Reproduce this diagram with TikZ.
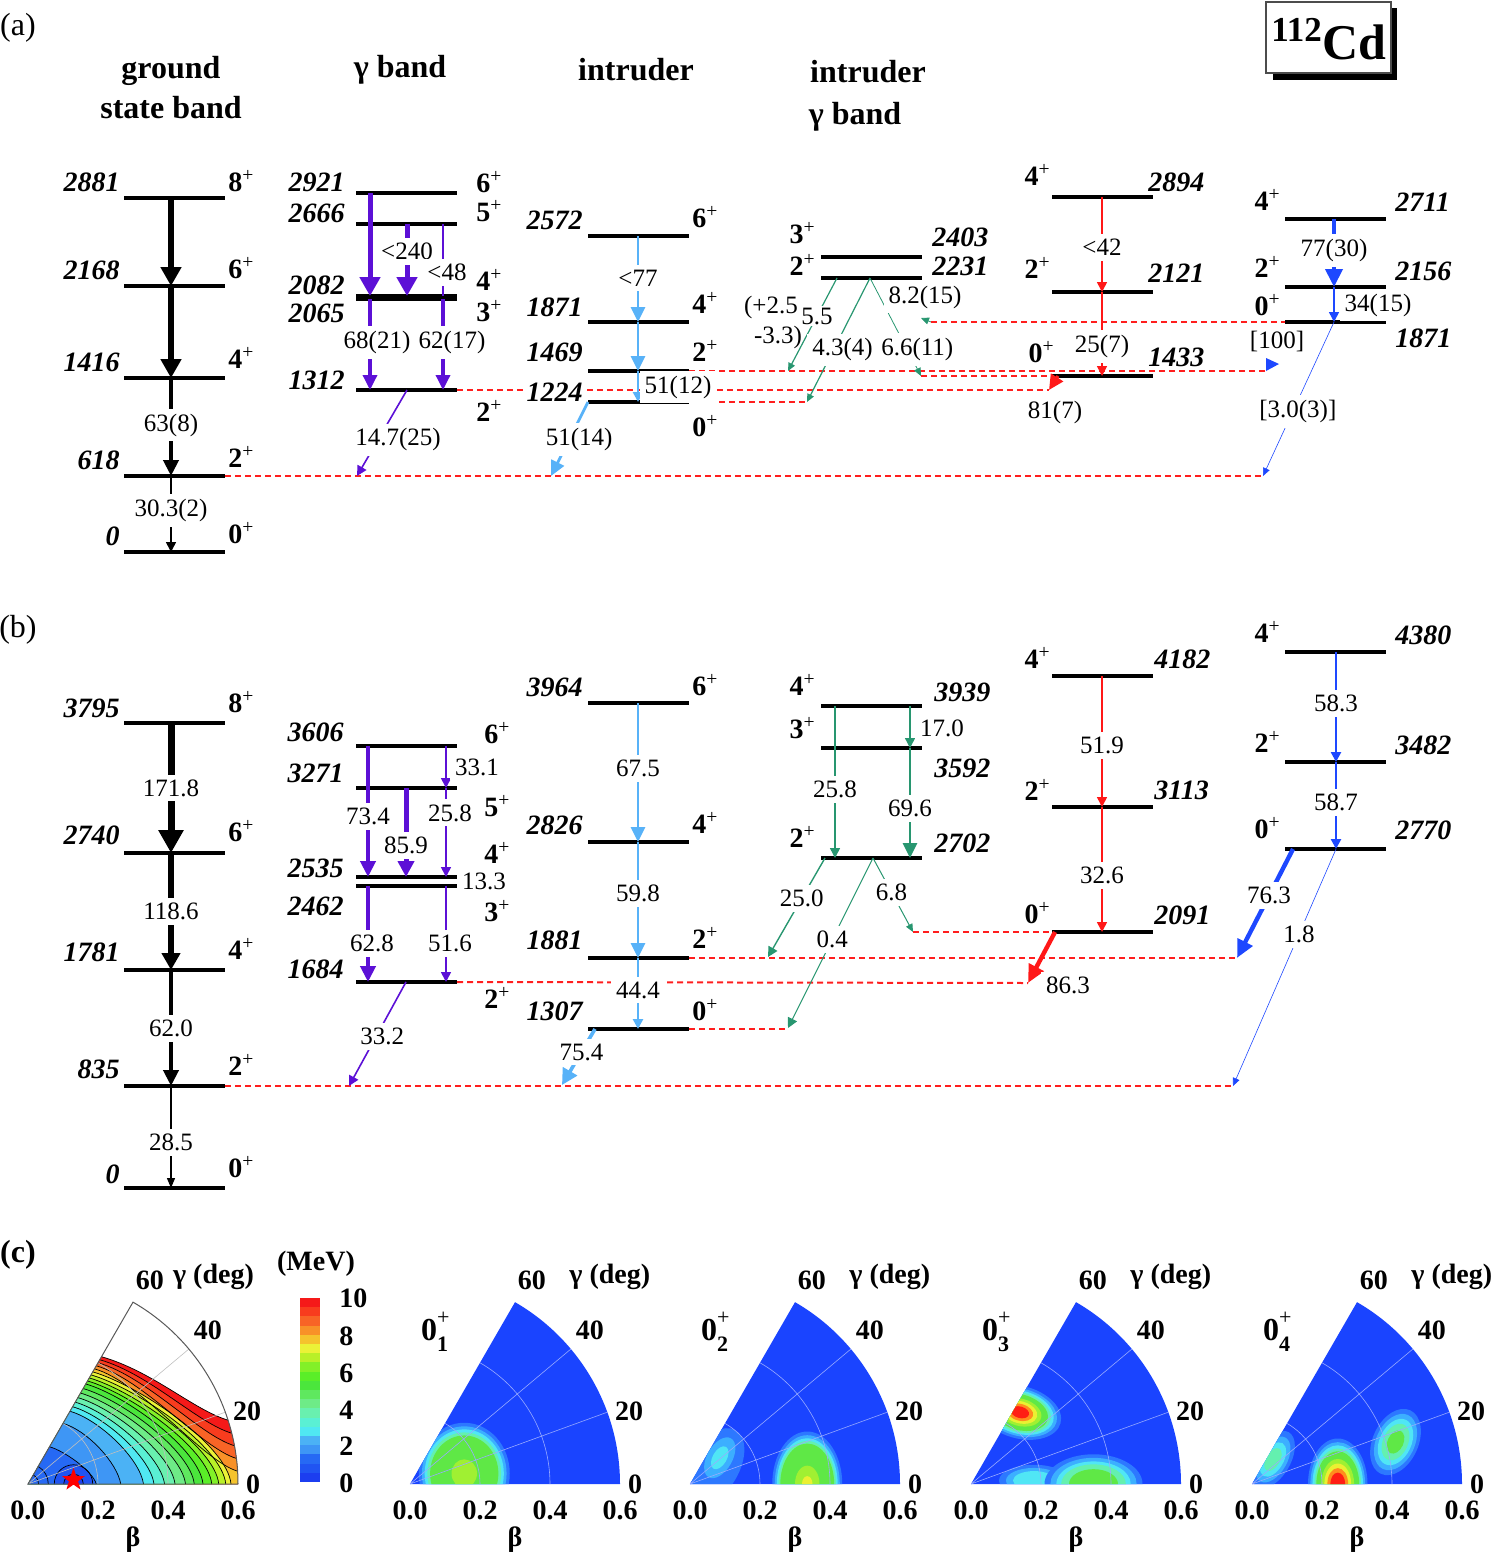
\documentclass[tikz,border=0pt]{standalone}
\usepackage{fontspec}
\setmainfont{Liberation Serif}
\usetikzlibrary{arrows.meta,shapes.geometric}

% transition colours
\definecolor{purp}{RGB}{92,16,214}
\definecolor{skyb}{RGB}{88,178,248}
\definecolor{teal2}{RGB}{40,150,112}
\definecolor{redt}{RGB}{255,24,24}
\definecolor{bluet}{RGB}{30,72,255}
\definecolor{dashred}{RGB}{255,30,30}
% collective wave functions
\definecolor{psbg}{RGB}{26,68,255}
\definecolor{h1}{RGB}{45,120,255}
\definecolor{h2}{RGB}{60,175,255}
\definecolor{h3}{RGB}{80,230,245}
\definecolor{h4}{RGB}{100,240,175}
\definecolor{h5}{RGB}{95,232,70}
\definecolor{h6}{RGB}{160,240,50}
\definecolor{h7}{RGB}{235,240,50}
\definecolor{h8}{RGB}{255,140,30}
\definecolor{h9}{RGB}{255,30,20}
% potential energy surface, 0.5 MeV per band
\definecolor{pc0}{RGB}{28,62,240}
\definecolor{pc1}{RGB}{32,84,242}
\definecolor{pc2}{RGB}{38,105,244}
\definecolor{pc3}{RGB}{62,150,245}
\definecolor{pc4}{RGB}{75,178,245}
\definecolor{pc5}{RGB}{80,232,242}
\definecolor{pc6}{RGB}{90,240,212}
\definecolor{pc7}{RGB}{105,240,175}
\definecolor{pc8}{RGB}{110,235,135}
\definecolor{pc9}{RGB}{95,232,95}
\definecolor{pc10}{RGB}{75,230,60}
\definecolor{pc11}{RGB}{90,238,40}
\definecolor{pc12}{RGB}{130,240,40}
\definecolor{pc13}{RGB}{185,240,40}
\definecolor{pc14}{RGB}{235,242,55}
\definecolor{pc15}{RGB}{245,195,45}
\definecolor{pc16}{RGB}{248,145,40}
\definecolor{pc17}{RGB}{248,100,38}
\definecolor{pc18}{RGB}{248,60,30}
\definecolor{pc19}{RGB}{245,25,25}

\newcommand{\spn}[1]{#1\textsuperscript{\mdseries +}}
\newcommand{\ztag}[1]{0\rlap{\raisebox{0.5em}{\fontsize{11}{11}\selectfont\mdseries +}}\raisebox{-0.35em}{\fontsize{11}{11}\selectfont #1}}
\newcommand{\elevel}[3]{\coordinate (#1) at (#2,#3); \draw[lvl] (#1) -- ++(101,0) coordinate (#1r);}
\newcommand{\heat}[5]{%
  \foreach \hcol/\hsc in {#5}{\fill[color=\hcol, rotate around={#4:(#1)}] (#1) ellipse[x radius={#2*\hsc}, y radius={#3*\hsc}];}}
\newcommand{\pgrid}[1]{\draw[#1] (0.2,0) arc[start angle=0, end angle=60, radius=0.2] (0.4,0) arc[start angle=0, end angle=60, radius=0.4] (0,0) -- (20:0.6) (0,0) -- (40:0.6);}
\newcommand{\pticks}[2]{%
  \node[tk] (#1b0) at (0,-0.074) {0.0};
  \node[tk] (#1b2) at (0.2,-0.074) {0.2};
  \node[tk] (#1b4) at (0.4,-0.074) {0.4};
  \node[tk] (#1b6) at (0.6,-0.074) {0.6};
  \node[tk] (#1bb) at (0.3,-0.16) {β};
  \node[tk] (#1g0) at (0.643,0) {0};
  \node[tk] (#1g2) at (0.626,0.209) {20};
  \node[tk] (#1g4) at (0.514,0.44) {40};
  \node[tk] (#1g6) at (0.348,0.583) {60};
  \node[tk] (#1gg) at (#2,0.592) {γ (deg)};}

\def\pesarc{0.42/17.7/19,0.41/14/18,0.40/10.5/17,0.39/7/16,0.38/3.5/15}
\def\pesbot{0.37/0.58/14,0.36/0.565/13,0.35/0.545/12,0.34/0.525/11,0.33/0.50/10,0.315/0.475/9,0.30/0.45/8,0.285/0.42/7,0.27/0.39/6,0.255/0.36/5,0.24/0.33/4,0.20/0.265/3,0.123/0.195/2}

\begin{document}
\begin{tikzpicture}[x=0.5pt, y=-0.5pt,
  lvl/.style={line width=2pt},
  en/.style={font=\fontsize{14}{16}\selectfont\bfseries\itshape, inner sep=1pt},
  sp/.style={font=\fontsize{14}{16}\selectfont\bfseries, inner sep=1pt},
  tl/.style={font=\fontsize{12.5}{14}\selectfont, text=black, fill=white, inner sep=2.5pt},
  ttl/.style={font=\fontsize{16}{20}\selectfont\bfseries},
  pl/.style={font=\fontsize{16}{18}\selectfont},
  tk/.style={font=\fontsize{14}{16}\selectfont\bfseries, inner sep=1pt},
  ttag/.style={font=\fontsize{16}{18}\selectfont\bfseries, inner sep=1pt},
  ext/.style={dashred, line width=1pt, dash pattern=on 3pt off 2pt},
  cline/.style={black, line width=0.35pt},
  wgrid/.style={white!55!psbg, line width=0.3pt},
  trA/.style={line width=2.7pt, -{Triangle[length=9.5pt,width=10pt]}},
  trB/.style={line width=2pt, -{Triangle[length=8pt,width=7.5pt]}},
  trC/.style={line width=1.4pt, -{Triangle[length=7.5pt,width=7pt]}},
  trD/.style={line width=0.8pt, -{Triangle[length=5pt,width=5pt]}},
  trE/.style={line width=0.4pt, -{Triangle[length=4pt,width=3.5pt]}}
]
\useasboundingbox (0,0) rectangle (1494,1558);

% ================= (a) experiment =================
\node[pl] (pa) at (18,28) {(a)};
\node[ttl, align=center] (hga) at (171,88) {ground\\state band};
\node[ttl] (hgma) at (400,70) {γ band};
\node[ttl] (hina) at (636,70) {intruder};
\node[ttl] (higa) at (868,72) {intruder};
\node[ttl] (higb) at (855,117) {γ band};

% nucleus tag
\fill[black] (1273,8) rectangle (1397,80);
\filldraw[fill=white, draw=gray!60!black, line width=0.6pt] (1266,2) rectangle (1391,73);
\node[font=\fontsize{25}{28}\selectfont\bfseries] (cd) at (1329,39) {\textsuperscript{112}Cd};

% levels
\elevel{ga8}{124}{198}\elevel{ga6}{124}{286}\elevel{ga4}{124}{378}\elevel{ga2}{124}{476}\elevel{ga0}{124}{552}
\elevel{ha6}{356}{193}\elevel{ha5}{356}{224}\elevel{ha4}{356}{296}\elevel{ha3}{356}{299}\elevel{ha2}{356}{390}
\elevel{ia6}{588}{236}\elevel{ia4}{588}{322}\elevel{ia2}{588}{371}\elevel{ia0}{588}{402}
\elevel{ja3}{821}{257}\elevel{ja2}{821}{278}
\elevel{ka4}{1052}{197}\elevel{ka2}{1052}{292}\elevel{ka0}{1052}{376}
\elevel{la4}{1285}{219}\elevel{la2}{1285}{287}\elevel{la0}{1285}{322}

% transition columns and landing points
\coordinate (xg) at (171,0);
\coordinate (xh1) at (370,0); \coordinate (xh2) at (407,0); \coordinate (xh3) at (443,0);
\coordinate (xi) at (638,0);
\coordinate (xj1) at (837,0); \coordinate (xj2) at (870,0);
\coordinate (xk) at (1102,0);
\coordinate (xl) at (1334,0);
\coordinate (dga) at (357,476);
\coordinate (dia) at (551,476);
\coordinate (dja1) at (788,371); \coordinate (dja2) at (807,402); \coordinate (dja3) at (921,376);
\coordinate (sja4) at (931,322); \coordinate (dja4) at (921,318);
\coordinate (ska) at (1058,376); \coordinate (dka) at (1049,390);
\coordinate (dla) at (1263,476); \coordinate (dl100) at (1266,371);

% level extensions
\draw[ext] (ga2r) -- (dla);
\draw[ext] (ha2r) -- (dka);
\draw[ext] (ia2r) -- (dl100);
\draw[ext] (ia0r) -- (dja2);
\draw[ext] (dja3) -- (ka0);
\draw[ext] (sja4) -- (la0);

% energies and spins
\node[en, anchor=east] (Ega8) at (122,182) {2881};
\node[en, anchor=east] (Ega6) at (122,270) {2168};
\node[en, anchor=east] (Ega4) at (122,362) {1416};
\node[en, anchor=east] (Ega2) at (122,460) {618};
\node[en, anchor=east] (Ega0) at (122,536) {0};
\node[sp, anchor=west] (Sga8) at (226,181) {\spn{8}};
\node[sp, anchor=west] (Sga6) at (226,268) {\spn{6}};
\node[sp, anchor=west] (Sga4) at (226,358) {\spn{4}};
\node[sp, anchor=west] (Sga2) at (226,457) {\spn{2}};
\node[sp, anchor=west] (Sga0) at (226,533) {\spn{0}};

\node[en, anchor=east] (Eha6) at (347,182) {2921};
\node[en, anchor=east] (Eha5) at (347,213) {2666};
\node[en, anchor=east] (Eha4) at (347,285) {2082};
\node[en, anchor=east] (Eha3) at (347,313) {2065};
\node[en, anchor=east] (Eha2) at (347,380) {1312};
\node[sp, anchor=west] (Sha6) at (474,182) {\spn{6}};
\node[sp, anchor=west] (Sha5) at (474,211) {\spn{5}};
\node[sp, anchor=west] (Sha4) at (474,280) {\spn{4}};
\node[sp, anchor=west] (Sha3) at (474,311) {\spn{3}};
\node[sp, anchor=west] (Sha2) at (474,411) {\spn{2}};

\node[en, anchor=east] (Eia6) at (585,220) {2572};
\node[en, anchor=east] (Eia4) at (585,307) {1871};
\node[en, anchor=east] (Eia2) at (585,352) {1469};
\node[en, anchor=east, fill=white] (Eia0) at (585,392) {1224};
\node[sp, anchor=west] (Sia6) at (690,217) {\spn{6}};
\node[sp, anchor=west] (Sia4) at (690,303) {\spn{4}};
\node[sp, anchor=west] (Sia2) at (690,351) {\spn{2}};
\node[sp, anchor=west] (Sia0) at (690,426) {\spn{0}};

\node[sp, anchor=east] (Sja3) at (818,233) {\spn{3}};
\node[sp, anchor=east] (Sja2) at (818,265) {\spn{2}};
\node[en, anchor=west] (Eja3) at (930,237) {2403};
\node[en, anchor=west] (Eja2) at (930,266) {2231};

\node[sp, anchor=east] (Ska4) at (1053,175) {\spn{4}};
\node[sp, anchor=east] (Ska2) at (1053,268) {\spn{2}};
\node[sp, anchor=east] (Ska0) at (1057,352) {\spn{0}};
\node[en, anchor=west] (Eka4) at (1146,182) {2894};
\node[en, anchor=west] (Eka2) at (1146,273) {2121};
\node[en, anchor=west] (Eka0) at (1146,357) {1433};

\node[sp, anchor=east] (Sla4) at (1283,200) {\spn{4}};
\node[sp, anchor=east] (Sla2) at (1283,267) {\spn{2}};
\node[sp, anchor=east] (Sla0) at (1283,305) {\spn{0}};
\node[en, anchor=west] (Ela4) at (1393,202) {2711};
\node[en, anchor=west] (Ela2) at (1393,271) {2156};
\node[en, anchor=west] (Ela0) at (1393,338) {1871};

% transitions: ground band
\draw[trA] (xg |- ga8) -- (xg |- ga6);
\draw[trA] (xg |- ga6) -- (xg |- ga4);
\draw[trB] (xg |- ga4) -- (xg |- ga2) node[tl, pos=.48] (ta42) {63(8)};
\draw[trD] (xg |- ga2) -- (xg |- ga0) node[tl, pos=.45] (ta20) {30.3(2)};
% gamma band
\draw[trA, purp, line width=2.5pt] (xh1 |- ha6) -- (xh1 |- ha4);
\draw[trA, purp, line width=2.5pt] (xh2 |- ha5) -- (xh2 |- ha4) node[tl, pos=.38] (tg240) {<240};
\draw[purp, line width=0.8pt] (xh3 |- ha5) -- (xh3 |- ha4) node[tl, pos=.67, xshift=2pt] (tg48) {<48};
\draw[trC, purp, line width=1.7pt] (xh1 |- ha3) -- (xh1 |- ha2) node[tl, pos=.48, xshift=3.5pt] (tg68) {68(21)};
\draw[trC, purp, line width=1.7pt] (xh3 |- ha3) -- (xh3 |- ha2) node[tl, pos=.48, xshift=4.5pt] (tg62) {62(17)};
\draw[trD, purp] (xh2 |- ha2) -- (dga) node[tl, pos=.58, xshift=10pt] (tg147) {14.7(25)};
% intruder band
\draw[trC, skyb] (xi |- ia6) -- (xi |- ia4) node[tl, pos=.49] (ti77) {<77};
\draw[trC, skyb] (xi |- ia4) -- (xi |- ia2);
\draw[trD, skyb, line width=1.4pt] (xi |- ia2) -- (xi |- ia0);
\node[tl] (ti51) at (678,387) {51(12)};
\draw[trC, skyb] (ia0) -- (dia) node[tl, pos=.51, xshift=5pt] (ti514) {51(14)};
% intruder gamma band
\draw[trE, teal2, line width=0.6pt] (xj1 |- ja2) -- (dja1) node[tl, pos=.41, inner sep=1pt] (tj55) {5.5};
\node[font=\fontsize{12.5}{14}\selectfont, inner sep=0pt] (tj25a) at (771,307) {(+2.5};
\node[font=\fontsize{12.5}{14}\selectfont, inner sep=0pt] (tj25b) at (778,337) {-3.3)};
\draw[trE, teal2, line width=0.6pt] (xj2 |- ja2) -- (dja2) node[tl, pos=.58, xshift=4.5pt] (tj43) {4.3(4)};
\draw[trE, teal2] (xj2 |- ja2) -- (dja3) node[tl, pos=.73, xshift=5pt] (tj66) {6.6(11)};
\node[tl] (tj82) at (925,297) {8.2(15)};
\draw[trE, teal2] (sja4) -- (dja4);
% 0+ 1433 band
\draw[trD, redt] (xk |- ka4) -- (xk |- ka2) node[tl, pos=.53] (tk42) {<42};
\draw[trD, redt] (xk |- ka2) -- (xk |- ka0) node[tl, pos=.65] (tk25) {25(7)};
\draw[trC, redt, line width=1.6pt] (ska) -- (dka);
\node[tl] (tk81) at (1055,412) {81(7)};
% 0+ 1871 band
\draw[bluet, line width=2pt, -{Triangle[length=9pt,width=8.5pt]}] (xl |- la4) -- (xl |- la2) node[tl, pos=.46] (tl77) {77(30)};
\draw[trD, bluet] (xl |- la2) -- (xl |- la0);
\node[tl] (tl34) at (1378,305) {34(15)};
\draw[trE, bluet, line width=0.3pt] (xl |- la0) -- (dla) node[tl, pos=.58, xshift=2.5pt] (tl30) {[3.0(3)]};
\node[tl] (tl100) at (1277,341) {[100]};
\fill[bluet] (dl100) -- ++(0,-13) -- ++(13,6) -- cycle;

% ================= (b) calculation =================
\node[pl] (pb) at (18,630) {(b)};

\elevel{gb8}{124}{723}\elevel{gb6}{124}{853}\elevel{gb4}{124}{970}\elevel{gb2}{124}{1086}\elevel{gb0}{124}{1188}
\elevel{hb6}{356}{746}\elevel{hb5}{356}{788}\elevel{hb4}{356}{877}\elevel{hb3}{356}{886}\elevel{hb2}{356}{982}
\elevel{ib6}{588}{703}\elevel{ib4}{588}{842}\elevel{ib2}{588}{958}\elevel{ib0}{588}{1029}
\elevel{jb4}{821}{706}\elevel{jb3}{821}{748}\elevel{jb2}{821}{858}
\elevel{kb4}{1052}{676}\elevel{kb2}{1052}{807}\elevel{kb0}{1052}{932}
\elevel{lb4}{1285}{652}\elevel{lb2}{1285}{762}\elevel{lb0}{1285}{849}

\coordinate (xh1b) at (368,0); \coordinate (xh2b) at (406,0); \coordinate (xh3b) at (446,0);
\coordinate (xj1b) at (835,0); \coordinate (xj2b) at (910,0);
\coordinate (xlb) at (1336,0);
\coordinate (dhb) at (349,1086);
\coordinate (sib) at (595,1029); \coordinate (dib) at (562,1085);
\coordinate (sjb1) at (825,858); \coordinate (djb1) at (768,957);
\coordinate (sjb2) at (873,858); \coordinate (djb2) at (788,1028); \coordinate (djb3) at (913,932);
\coordinate (skb) at (1055,932); \coordinate (dkb) at (1028,983);
\coordinate (slb) at (1293,849); \coordinate (dlb1) at (1237,958); \coordinate (dlb2) at (1233,1086);

\draw[ext] (gb2r) -- (dlb2);
\draw[ext] (ib2r) -- (dlb1);
\draw[ext] (hb2r) -- (dkb);
\draw[ext] (ib0r) -- (djb2 |- ib0r);
\draw[ext] (djb3) -- (kb0);

\node[en, anchor=east] (Egb8) at (122,708) {3795};
\node[en, anchor=east] (Egb6) at (122,835) {2740};
\node[en, anchor=east] (Egb4) at (122,952) {1781};
\node[en, anchor=east] (Egb2) at (122,1069) {835};
\node[en, anchor=east] (Egb0) at (122,1174) {0};
\node[sp, anchor=west] (Sgb8) at (226,702) {\spn{8}};
\node[sp, anchor=west] (Sgb6) at (226,831) {\spn{6}};
\node[sp, anchor=west] (Sgb4) at (226,949) {\spn{4}};
\node[sp, anchor=west] (Sgb2) at (226,1065) {\spn{2}};
\node[sp, anchor=west] (Sgb0) at (226,1167) {\spn{0}};

\node[en, anchor=east] (Ehb6) at (346,732) {3606};
\node[en, anchor=east] (Ehb5) at (346,773) {3271};
\node[en, anchor=east] (Ehb4) at (346,868) {2535};
\node[en, anchor=east] (Ehb3) at (346,906) {2462};
\node[en, anchor=east] (Ehb2) at (346,969) {1684};
\node[sp, anchor=west] (Shb6) at (482,733) {\spn{6}};
\node[sp, anchor=west] (Shb5) at (482,806) {\spn{5}};
\node[sp, anchor=west] (Shb4) at (482,853) {\spn{4}};
\node[sp, anchor=west] (Shb3) at (482,911) {\spn{3}};
\node[sp, anchor=west] (Shb2) at (482,998) {\spn{2}};

\node[en, anchor=east] (Eib6) at (585,687) {3964};
\node[en, anchor=east] (Eib4) at (585,825) {2826};
\node[en, anchor=east] (Eib2) at (585,940) {1881};
\node[en, anchor=east] (Eib0) at (585,1011) {1307};
\node[sp, anchor=west] (Sib6) at (690,685) {\spn{6}};
\node[sp, anchor=west] (Sib4) at (690,823) {\spn{4}};
\node[sp, anchor=west] (Sib2) at (690,938) {\spn{2}};
\node[sp, anchor=west] (Sib0) at (690,1010) {\spn{0}};

\node[sp, anchor=east] (Sjb4) at (818,685) {\spn{4}};
\node[sp, anchor=east] (Sjb3) at (818,728) {\spn{3}};
\node[sp, anchor=east] (Sjb2) at (818,837) {\spn{2}};
\node[en, anchor=west] (Ejb4) at (932,692) {3939};
\node[en, anchor=west] (Ejb3) at (932,768) {3592};
\node[en, anchor=west] (Ejb2) at (932,843) {2702};

\node[sp, anchor=east] (Skb4) at (1053,658) {\spn{4}};
\node[sp, anchor=east] (Skb2) at (1053,790) {\spn{2}};
\node[sp, anchor=east] (Skb0) at (1053,913) {\spn{0}};
\node[en, anchor=west] (Ekb4) at (1152,659) {4182};
\node[en, anchor=west] (Ekb2) at (1152,790) {3113};
\node[en, anchor=west] (Ekb0) at (1152,915) {2091};

\node[sp, anchor=east] (Slb4) at (1283,632) {\spn{4}};
\node[sp, anchor=east] (Slb2) at (1283,742) {\spn{2}};
\node[sp, anchor=east] (Slb0) at (1283,828) {\spn{0}};
\node[en, anchor=west] (Elb4) at (1393,635) {4380};
\node[en, anchor=west] (Elb2) at (1393,745) {3482};
\node[en, anchor=west] (Elb0) at (1393,830) {2770};

% ground band
\draw[line width=3.5pt, -{Triangle[length=11.5pt,width=12pt]}] (xg |- gb8) -- (xg |- gb6) node[tl, pos=.5] (tb171) {171.8};
\draw[line width=3pt, -{Triangle[length=8.5pt,width=9pt]}] (xg |- gb6) -- (xg |- gb4) node[tl, pos=.5] (tb118) {118.6};
\draw[trB] (xg |- gb4) -- (xg |- gb2) node[tl, pos=.5] (tb62) {62.0};
\draw[line width=0.6pt, -{Triangle[length=5pt,width=4pt]}] (xg |- gb2) -- (xg |- gb0) node[tl, pos=.55] (tb28) {28.5};
% gamma band
\draw[trB, purp] (xh1b |- hb6) -- (xh1b |- hb4) node[tl, pos=.54] (tb73) {73.4};
\draw[trD, purp] (xh3b |- hb6) -- (xh3b |- hb5);
\node[tl] (tb33) at (477,767) {33.1};
\draw[purp, line width=2.5pt, -{Triangle[length=8pt,width=8pt]}] (xh2b |- hb5) -- (xh2b |- hb4) node[tl, pos=.65] (tb85) {85.9};
\draw[trD, purp] (xh3b |- hb5) -- (xh3b |- hb4) node[tl, pos=.28, xshift=2pt] (tb258g) {25.8};
\node[tl, inner sep=1pt] (tb13) at (484,881) {13.3};
\draw[trB, purp] (xh1b |- hb3) -- (xh1b |- hb2) node[tl, pos=.6, xshift=2pt] (tb628) {62.8};
\draw[trD, purp] (xh3b |- hb3) -- (xh3b |- hb2) node[tl, pos=.6, xshift=2pt] (tb516) {51.6};
\draw[trD, purp] (xh2b |- hb2) -- (dhb) node[tl, pos=.52, xshift=3pt] (tb332) {33.2};
% intruder band
\draw[trC, skyb] (xi |- ib6) -- (xi |- ib4) node[tl, pos=.47] (tb675) {67.5};
\draw[trC, skyb] (xi |- ib4) -- (xi |- ib2) node[tl, pos=.44] (tb598) {59.8};
\draw[trD, skyb, line width=1.4pt] (xi |- ib2) -- (xi |- ib0) node[tl, pos=.45] (tb444) {44.4};
\draw[skyb, line width=1.8pt, -{Triangle[length=8pt,width=8pt]}] (sib) -- (dib) node[tl, pos=.41] (tb754) {75.4};
% intruder gamma band
\draw[trD, teal2, line width=0.7pt] (xj1b |- jb4) -- (xj1b |- jb2) node[tl, pos=.55] (tb258) {25.8};
\draw[trD, teal2, line width=0.7pt] (xj2b |- jb4) -- (xj2b |- jb3);
\node[tl] (tb170) at (942,728) {17.0};
\draw[trC, teal2] (xj2b |- jb3) -- (xj2b |- jb2) node[tl, pos=.55] (tb696) {69.6};
\draw[trD, teal2, line width=0.7pt] (sjb1) -- (djb1) node[tl, pos=.41] (tb250) {25.0};
\draw[trD, teal2, line width=0.5pt] (sjb2) -- (djb2) node[tl, pos=.48] (tb04) {0.4};
\draw[trE, teal2, line width=0.5pt] (sjb2) -- (djb3) node[tl, pos=.46] (tb68) {6.8};
% 0+ 2091 band
\draw[trD, redt] (xk |- kb4) -- (xk |- kb2) node[tl, pos=.53] (tb519) {51.9};
\draw[trD, redt] (xk |- kb2) -- (xk |- kb0) node[tl, pos=.55] (tb326) {32.6};
\draw[redt, line width=2.2pt, -{Triangle[length=9pt,width=8pt]}] (skb) -- (dkb);
\node[tl] (tb863) at (1068,985) {86.3};
% 0+ 2770 band
\draw[trD, bluet, line width=1.2pt] (xlb |- lb4) -- (xlb |- lb2) node[tl, pos=.47] (tb583) {58.3};
\draw[trD, bluet, line width=1.2pt] (xlb |- lb2) -- (xlb |- lb0) node[tl, pos=.46] (tb587) {58.7};
\draw[bluet, line width=2.2pt, -{Triangle[length=9pt,width=8pt]}] (slb) -- (dlb1) node[tl, pos=.43] (tb763) {76.3};
\draw[trE, bluet, line width=0.3pt] (xlb |- lb0) -- (dlb2) node[tl, pos=.36] (tb18) {1.8};

% ================= (c) surfaces =================
\node[pl, font=\fontsize{16}{18}\selectfont\bfseries] (pcl) at (18,1255) {(c)};

% potential energy surface
\begin{scope}[shift={(28,1484)}, x=175pt, y=175pt]
  \foreach \rad/\ang/\pcn in \pesarc {
    \pgfmathsetmacro{\pex}{\rad*cos(60)}
    \pgfmathsetmacro{\pey}{\rad*sin(60)}
    \pgfmathsetmacro{\pqx}{0.6*cos(\ang)}
    \pgfmathsetmacro{\pqy}{0.6*sin(\ang)}
    \fill[color=pc\pcn] (0,0) -- (\pex,\pey) .. controls ({\pex+0.35*\rad},{\pey-0.1*\rad}) and ({\pqx-0.1},{\pqy+0.03}) .. (\pqx,\pqy) arc[start angle=\ang, end angle=0, radius=0.6] -- cycle;
  }
  \foreach \rad/\bend/\pcn in \pesbot {
    \pgfmathsetmacro{\pex}{\rad*cos(60)}
    \pgfmathsetmacro{\pey}{\rad*sin(60)}
    \fill[color=pc\pcn] (0,0) -- (\pex,\pey) .. controls ({\pex+0.35*\rad},{\pey-0.1*\rad}) and ({\bend-0.01},{0.3*\rad}) .. (\bend,0) -- cycle;
  }
  \fill[pc1] (0.075,0) arc[start angle=180, end angle=0, radius=0.055] -- cycle;
  \fill[pc0] (0.102,0) arc[start angle=180, end angle=0, radius=0.028] -- cycle;
  \foreach \rad/\ang/\pcn in \pesarc {
    \pgfmathsetmacro{\pex}{\rad*cos(60)}
    \pgfmathsetmacro{\pey}{\rad*sin(60)}
    \pgfmathsetmacro{\pqx}{0.6*cos(\ang)}
    \pgfmathsetmacro{\pqy}{0.6*sin(\ang)}
    \draw[cline] (\pex,\pey) .. controls ({\pex+0.35*\rad},{\pey-0.1*\rad}) and ({\pqx-0.1},{\pqy+0.03}) .. (\pqx,\pqy);
  }
  \foreach \rad/\bend/\pcn in \pesbot {
    \pgfmathsetmacro{\pex}{\rad*cos(60)}
    \pgfmathsetmacro{\pey}{\rad*sin(60)}
    \draw[cline] (\pex,\pey) .. controls ({\pex+0.35*\rad},{\pey-0.1*\rad}) and ({\bend-0.01},{0.3*\rad}) .. (\bend,0);
  }
  \draw[cline] (0.075,0) arc[start angle=180, end angle=0, radius=0.055];
  \draw[cline] (0.102,0) arc[start angle=180, end angle=0, radius=0.028];
  \draw[cline] (0.03,0) arc[start angle=0, end angle=60, radius=0.03];
  \draw[cline] (0.058,0) arc[start angle=0, end angle=60, radius=0.058];
  \pgrid{gray!50, line width=0.3pt}
  \draw[gray!70!black, line width=0.5pt] (0.6,0) -- (0,0) -- (60:0.6) arc[start angle=60, end angle=0, radius=0.6];
  \node[star, star points=5, star point ratio=2.5, fill=red, inner sep=0pt, minimum size=12pt] (pmin) at (0.13,0.012) {};
  \pticks{p0}{0.53}
\end{scope}

% colour scale
\foreach \k in {0,...,19} \fill[color=pc\k] (300,{1482-9.2*\k}) rectangle (320,{1482-9.2*(\k+1)});
\foreach \v/\yy in {0/1483,2/1446,4/1410,6/1373,8/1336,10/1298} \node[tk, anchor=west] (cb\v) at (337,\yy) {\v};
\node[tk] (cbu) at (316,1264) {(MeV)};

% collective wave functions
\begin{scope}[shift={(410,1484)}, x=175pt, y=175pt]
  \fill[psbg] (0,0) -- (0.6,0) arc[start angle=0, end angle=60, radius=0.6] -- cycle;
  \begin{scope}
    \clip (0,0) -- (0.6,0) arc[start angle=0, end angle=60, radius=0.6] -- cycle;
    \heat{0.155,0.03}{0.13}{0.145}{0}{h1/1,h2/0.93,h3/0.87,h4/0.81,h5/0.75,h6/0.28}
  \end{scope}
  \pgrid{wgrid}
  \pticks{q1}{0.571}
  \node[ttag] (q1s) at (0.07,0.434) {\ztag{1}};
\end{scope}

\begin{scope}[shift={(690,1484)}, x=175pt, y=175pt]
  \fill[psbg] (0,0) -- (0.6,0) arc[start angle=0, end angle=60, radius=0.6] -- cycle;
  \begin{scope}
    \clip (0,0) -- (0.6,0) arc[start angle=0, end angle=60, radius=0.6] -- cycle;
    \heat{0.07,0.05}{0.07}{0.12}{-30}{h1/1}
    \heat{0.085,0.075}{0.045}{0.08}{-30}{h2/0.8,h3/0.45}
    \heat{0.335,0.0}{0.1}{0.15}{0}{h1/1,h2/0.93,h3/0.87,h4/0.82,h5/0.77,h6/0.35,h7/0.15}
  \end{scope}
  \pgrid{wgrid}
  \pticks{q2}{0.571}
  \node[ttag] (q2s) at (0.07,0.434) {\ztag{2}};
\end{scope}

\begin{scope}[shift={(971,1484)}, x=175pt, y=175pt]
  \fill[psbg] (0,0) -- (0.6,0) arc[start angle=0, end angle=60, radius=0.6] -- cycle;
  \begin{scope}
    \clip (0,0) -- (0.6,0) arc[start angle=0, end angle=60, radius=0.6] -- cycle;
    \heat{0.18,0.01}{0.1}{0.045}{0}{h1/1,h2/0.8,h3/0.6}
    \heat{0.35,0.0}{0.14}{0.085}{0}{h1/1,h2/0.88,h3/0.76,h4/0.66,h5/0.5}
    \heat{0.14,0.205}{0.12}{0.075}{-15}{h1/1,h2/0.9,h3/0.82,h4/0.75,h5/0.68,h6/0.52,h7/0.42,h8/0.32,h9/0.22}
  \end{scope}
  \pgrid{wgrid}
  \pticks{q3}{0.571}
  \node[ttag] (q3s) at (0.07,0.434) {\ztag{3}};
\end{scope}

\begin{scope}[shift={(1252,1484)}, x=175pt, y=175pt]
  \fill[psbg] (0,0) -- (0.6,0) arc[start angle=0, end angle=60, radius=0.6] -- cycle;
  \begin{scope}
    \clip (0,0) -- (0.6,0) arc[start angle=0, end angle=60, radius=0.6] -- cycle;
    \heat{0.06,0.07}{0.05}{0.09}{-30}{h1/1,h2/0.8,h3/0.6,h4/0.4}
    \heat{0.41,0.12}{0.065}{0.1}{-25}{h1/1,h2/0.85,h3/0.7,h4/0.55,h5/0.35}
    \heat{0.245,0.0}{0.085}{0.13}{0}{h1/1,h2/0.92,h3/0.85,h4/0.78,h5/0.72,h6/0.55,h7/0.45,h8/0.35,h9/0.25}
  \end{scope}
  \pgrid{wgrid}
  \pticks{q4}{0.571}
  \node[ttag] (q4s) at (0.07,0.434) {\ztag{4}};
\end{scope}

\end{tikzpicture}
\end{document}
